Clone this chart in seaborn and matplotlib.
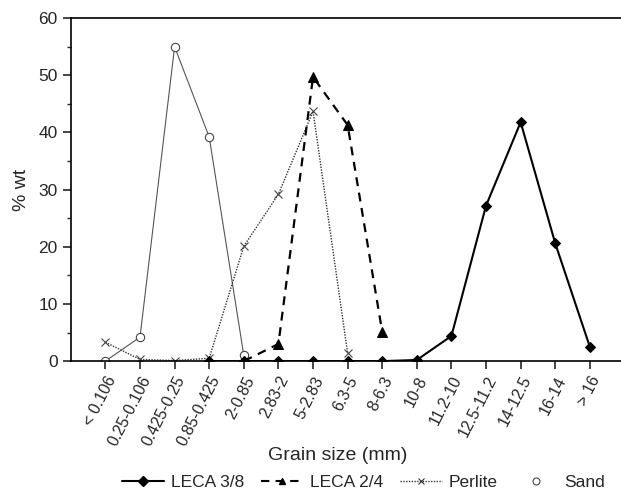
import matplotlib
matplotlib.use("Agg")
import matplotlib.pyplot as plt
from matplotlib.lines import Line2D
from matplotlib.ticker import MultipleLocator
import numpy as np
import pandas as pd
import seaborn as sns

categories = ["< 0.106", "0.25-0.106", "0.425-0.25", "0.85-0.425", "2-0.85", "2.83-2",
              "5-2.83", "6.3-5", "8-6.3", "10-8", "11.2-10", "12.5-11.2", "14-12.5",
              "16-14", "> 16"]

leca38_cats = ["0.85-0.425", "2-0.85", "2.83-2", "5-2.83", "6.3-5", "8-6.3", "10-8",
               "11.2-10", "12.5-11.2", "14-12.5", "16-14", "> 16"]
leca38_vals = [0.0, 0.0, 0.0, 0.0, 0.0, 0.0, 0.2, 4.4, 27.2, 41.8, 20.6, 2.5]

leca24_cats = ["2-0.85", "2.83-2", "5-2.83", "6.3-5", "8-6.3"]
leca24_vals = [0.0, 3.0, 49.7, 41.3, 5.1]

perlite_cats = ["< 0.106", "0.25-0.106", "0.425-0.25", "0.85-0.425", "2-0.85", "2.83-2",
                "5-2.83", "6.3-5"]
perlite_vals = [3.3, 0.3, 0.1, 0.5, 20.1, 29.2, 43.7, 1.4]

sand_cats = ["< 0.106", "0.25-0.106", "0.425-0.25", "0.85-0.425", "2-0.85"]
sand_vals = [0.0, 4.2, 55.0, 39.2, 1.0]

sns.set_theme(style="white")
plt.rcParams["font.family"] = ["Liberation Sans", "DejaVu Sans"]

fig = plt.figure(figsize=(6.21, 4.90), dpi=100)
ax = fig.add_axes([0.114, 0.263, 0.886, 0.700])

def frame(cats, vals):
    return pd.DataFrame({"x": [categories.index(c) for c in cats], "y": vals})

sns.lineplot(data=frame(sand_cats, sand_vals), x="x", y="y", ax=ax, color="#555555",
             lw=0.8, marker="o", markersize=6, markerfacecolor="white",
             markeredgecolor="#444444", markeredgewidth=0.8)
sns.lineplot(data=frame(perlite_cats, perlite_vals), x="x", y="y", ax=ax, color="#333333",
             lw=1.0, linestyle=(0, (1, 1)), marker="x", markersize=6,
             markeredgecolor="#444444", markeredgewidth=0.8)
sns.lineplot(data=frame(leca24_cats, leca24_vals), x="x", y="y", ax=ax, color="black",
             lw=1.6, linestyle=(0, (4, 3)), marker="^", markersize=7,
             markerfacecolor="black", markeredgecolor="black")
sns.lineplot(data=frame(leca38_cats, leca38_vals), x="x", y="y", ax=ax, color="black",
             lw=1.5, marker="D", markersize=5.5, markerfacecolor="black",
             markeredgecolor="black")

ax.set_xlim(-1, 14.9)
ax.set_ylim(0, 60)
ax.set_xticks(range(len(categories)))
ax.set_xticklabels(categories, rotation=63, ha="right", rotation_mode="anchor",
                   fontsize=11.5)
ax.yaxis.set_major_locator(MultipleLocator(10))
ax.yaxis.set_minor_locator(MultipleLocator(5))
ax.tick_params(axis="y", which="major", direction="out", length=6, width=1.2,
               left=True, labelsize=12.5)
ax.tick_params(axis="y", which="minor", direction="out", length=3, width=1.0, left=True)
ax.tick_params(axis="x", which="major", direction="out", length=6, width=1.2,
               bottom=True, pad=3)
for s in ["left", "top", "bottom"]:
    ax.spines[s].set_color("black")
    ax.spines[s].set_linewidth(1.2)
ax.spines["right"].set_visible(False)
ax.set_xlabel("Grain size (mm)", fontsize=14)
ax.xaxis.set_label_coords(0.485, -0.25)
ax.set_ylabel("% wt", fontsize=14, labelpad=6)

handles = [
    Line2D([], [], color="black", lw=1.5, marker="D", markersize=5),
    Line2D([], [], color="black", lw=1.5, linestyle=(0, (4, 3)), marker="^", markersize=5),
    Line2D([], [], color="#333333", lw=1.0, linestyle=(0, (1, 1)), marker="x",
           markersize=5, markeredgewidth=0.8),
    Line2D([], [], color="none", marker="o", markersize=5, markerfacecolor="white",
           markeredgecolor="#444444", markeredgewidth=0.8),
]
labels = ["LECA 3/8", "LECA 2/4", "Perlite", "Sand"]
fig.legend(handles, labels, loc="lower center", bbox_to_anchor=(0.585, -0.032), ncol=4,
           frameon=False, fontsize=12.5, handlelength=2.4, columnspacing=1.0,
           handletextpad=0.4)

fig.savefig("out.png", dpi=100)
